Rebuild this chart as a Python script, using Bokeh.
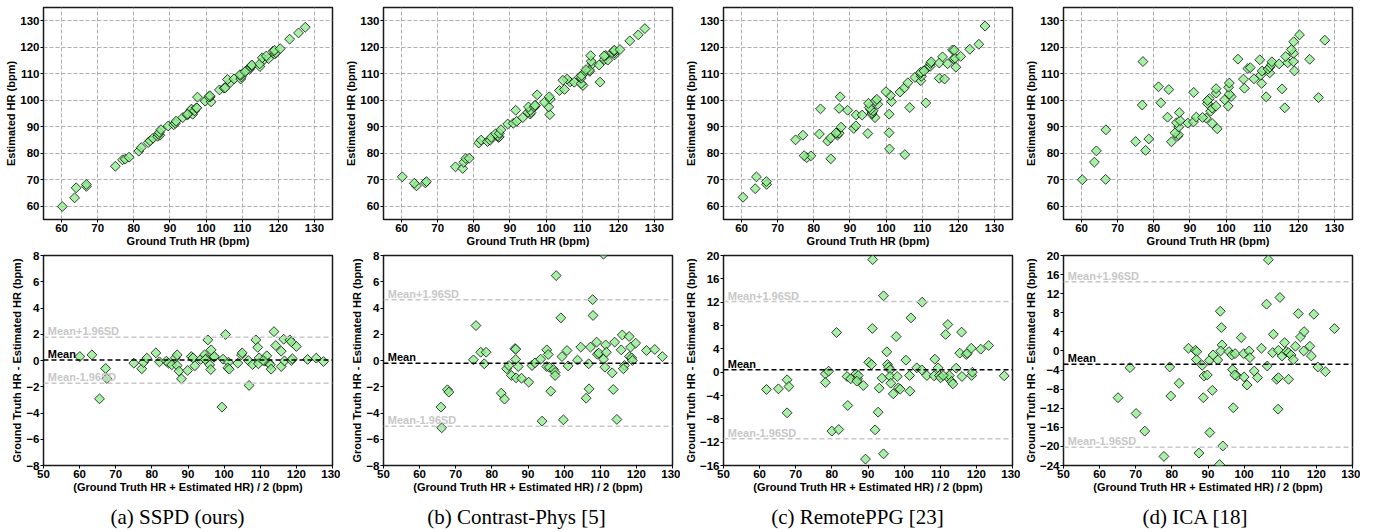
import numpy as np
from bokeh.plotting import figure
from bokeh.layouts import column, row
from bokeh.models import Range1d, FixedTicker, Span, CustomJSTickFormatter
from bokeh.core.properties import value
from bokeh.embed import file_html
from bokeh.resources import INLINE

# ---------------- data (Bland-Altman coordinates) ----------------
captions = ["(a) SSPD (ours)", "(b) Contrast-Phys [5]", "(c) RemotePPG [23]", "(d) ICA [18]"]

sspd_mean = [60.05, 63.4, 67.2, 67.55, 65.5, 75.0, 77.2, 77.7, 78.6, 81.1,
             82.1, 84.0, 84.6, 85.5, 86.5, 87.0, 87.0, 87.5, 88.2, 89.9,
             90.9, 91.4, 91.9, 93.5, 94.6, 95.1, 95.5, 96.0, 96.3, 96.4,
             97.2, 97.3, 99.4, 99.7, 100.4, 101.2, 101.0, 101.4, 103.8, 104.8,
             105.0, 106.7, 106.9, 107.9, 108.8, 109.3, 109.7, 109.5, 111.3, 111.8,
             112.4, 112.8, 113.0, 113.8, 114.3, 115.8, 115.8, 116.5, 116.7, 118.2,
             118.6, 118.6, 118.9, 120.0, 123.1, 125.5, 127.5, 110.8, 94.8]
sspd_diff = [0.30, 0.43, -0.61, -1.37, -2.92, -0.20, -0.63, -0.15, 0.18, 0.58,
             -0.10, -0.05, -0.20, -0.33, 0.20, 0.43, -0.38, -0.81, -1.40, -0.76,
             0.30, 0.20, -0.40, 0.08, 0.43, 0.13, 1.57, -0.33, -0.69, 0.81,
             0.25, 0.30, -3.55, 0.10, 1.98, -0.13, -0.56, -0.66, -0.20, 0.43,
             0.58, 0.00, -1.90, -0.30, 1.57, 1.00, 0.20, -0.25, -0.05, 0.36,
             -0.20, -0.33, -0.66, 2.20, 1.14, 0.71, -0.46, 1.62, -0.03, 1.57,
             1.42, 0.00, 0.13, 1.07, 0.08, 0.18, -0.08, 0.00, 0.08]

cphys_mean = [65.9, 66.1, 67.7, 68.1, 74.9, 75.6, 76.9, 77.9, 78.4, 82.6,
              83.5, 84.1, 84.7, 85.4, 86.4, 86.6, 86.6, 86.7, 87.3, 88.2,
              90.2, 91.1, 91.96, 93.5, 93.9, 95.2, 95.6, 95.2, 95.9, 96.3,
              97.1, 97.5, 97.8, 97.5, 99.1, 99.8, 99.4, 100.8, 101.1, 103.7,
              104.6, 106.8, 106.9, 106.1, 107.3, 107.9, 108.0, 109.0, 109.2, 109.6,
              110.9, 110.9, 111.5, 111.7, 111.3, 113.3, 113.6, 114.0, 114.6, 115.8,
              116.1, 116.7, 116.4, 118.0, 118.4, 118.1, 118.7, 118.9, 119.8, 122.8,
              125.1, 127.2, 65.65]
cphys_diff = [-3.55, -5.13, -2.23, -2.41, 0.05, 2.66, 0.63, -0.25, 0.63, -2.49,
              -2.94, -0.63, -0.38, -1.14, 0.91, 0.86, 0.08, -1.32, -0.46, -1.35,
              -1.65, -0.38, -0.18, 0.10, -4.62, 0.81, 0.46, -0.46, -0.51, -2.34,
              -0.69, -0.91, 6.47, -1.14, 3.25, -4.52, 0.30, 0.76, -0.41, 0.03,
              1.02, -0.25, -2.16, -2.87, 1.02, 4.64, 3.43, 1.40, 0.48, 0.56,
              8.1, 0.10, 1.19, 0.63, -0.51, -0.94, -2.21, 1.40, -4.49, 0.81,
              1.95, -0.38, -0.63, 1.83, 1.02, 0.30, 0.20, 0.00, 1.32, 0.76,
              0.84, 0.30, -10.9]

rppg_mean = [61.9, 65.2, 67.6, 68.1, 67.6, 78.2, 79.1, 78.2, 80.0, 81.9,
             81.3, 84.2, 84.4, 85.2, 86.7, 87.1, 87.3, 86.9, 88.7, 89.3,
             90.2, 91.3, 91.2, 91.0, 91.96, 92.8, 93.1, 93.9, 94.3, 94.3,
             95.2, 95.4, 95.7, 96.2, 96.1, 96.3, 97.0, 97.8, 98.1, 98.4,
             98.9, 100.5, 101.5, 101.6, 101.9, 103.5, 104.9, 105.0, 106.3, 108.5,
             108.3, 109.4, 109.8, 110.1, 111.5, 112.1, 112.0, 112.5, 113.1, 113.5,
             114.4, 115.4, 115.9, 116.0, 117.2, 117.5, 118.6, 118.7, 118.9, 121.2,
             123.4, 127.7, 110.8, 92.35]
rppg_diff = [-2.97, -2.86, -1.31, -2.46, -6.97, -0.29, 0.17, -1.77, -10.1, -9.83,
             6.8, -0.74, -5.71, -1.14, -0.29, -1.14, -0.57, -1.54, -2.29, -14.9,
             1.71, 19.3, 7.49, 1.31, -9.89, -6.86, -2.74, -1.03, 13.1, -14.0,
             3.49, 1.31, 0.86, 0.40, -0.74, -1.89, -3.71, 6.11, -0.74, -2.69,
             -2.91, 2.06, -0.57, -3.26, 9.31, 0.74, 0.40, 12.0, -0.57, 2.23,
             -0.63, 0.74, -0.57, -0.97, 6.46, 8.17, -0.86, -0.57, -1.60, -2.00,
             0.69, 3.26, 6.86, -0.74, 3.03, 3.26, 4.11, -0.57, 0.00, 3.94,
             4.57, -0.63, -0.57, 25.7]

ica_mean = [65.1, 68.4, 70.1, 72.5, 77.8, 79.4, 79.7, 82.0, 84.6, 86.5,
            86.9, 86.8, 87.5, 88.4, 88.7, 88.9, 89.8, 90.5, 90.4, 91.2,
            91.4, 92.7, 93.4, 93.7, 93.9, 93.5, 93.2, 94.1, 95.8, 96.6,
            96.8, 97.0, 97.5, 98.0, 97.4, 99.2, 99.9, 100.0, 100.8, 101.4,
            101.6, 102.8, 103.7, 104.8, 106.2, 106.4, 106.7, 107.9, 108.1, 109.0,
            109.5, 109.9, 109.4, 109.5, 110.5, 111.2, 111.7, 112.3, 112.3, 113.0,
            113.6, 114.2, 115.0, 115.6, 116.6, 116.5, 118.2, 118.6, 119.3, 120.4,
            122.5, 125.0, 95.8, 113.3]
ica_diff = [-9.79, -3.50, -13.1, -16.8, -22.1, -3.36, -9.44, -6.78, 0.56, 0.14,
            -0.14, -1.82, -21.4, -3.00, -9.79, -5.24, -5.03, -17.1, -1.96, -8.25,
            -0.84, -1.89, 8.32, 4.90, 1.26, 0.00, -23.8, -19.9, -0.14, -0.84,
            -3.92, -11.9, -0.56, -5.24, -5.03, 2.80, -0.56, -5.45, -7.13, 0.00,
            -1.40, -4.20, -5.59, 0.56, 9.79, -3.15, 19.1, -0.35, 3.50, -5.94,
            -5.59, 11.2, -12.2, 0.14, -1.05, 1.75, -0.14, -5.94, -0.35, -0.84,
            -1.82, 0.98, 7.83, 2.94, 4.06, 0.00, 0.98, -1.05, 7.69, -3.36,
            -4.34, 4.69, -37.6, 24.6]

ba_bias = [0.03, -0.2, 0.4, -2.8]
ba_upper = [1.78, 4.62, 12.1, 14.5]
ba_lower = [-1.73, -5.0, -11.4, -20.2]
ba_ylims = [(-8, 8), (-8, 8), (-16, 20), (-24, 20)]
ba_yticks = [list(range(-8, 9, 2)), list(range(-8, 9, 2)),
             list(range(-16, 21, 4)), list(range(-24, 21, 4))]
sc_ticks = list(range(60, 131, 10))
ba_xticks = list(range(50, 131, 10))

means = [sspd_mean, cphys_mean, rppg_mean, ica_mean]
diffs = [sspd_diff, cphys_diff, rppg_diff, ica_diff]

# ---------------- styling ----------------
FONT = "Liberation Sans"
W = 340
MB_L, MB_R = 43, 8

minus_fmt = "return tick < 0 ? '\u2212' + (-tick) : String(tick);"


def style(p, xticks, yticks, xlabel, ylabel, grid):
    p.outline_line_color = "#1a1a1a"
    p.outline_line_width = 1.5
    p.outline_line_alpha = 1.0
    p.xaxis.ticker = FixedTicker(ticks=xticks)
    p.yaxis.ticker = FixedTicker(ticks=yticks)
    p.xaxis.axis_label = xlabel
    p.yaxis.axis_label = ylabel
    for ax in p.axis:
        ax.axis_line_color = None
        ax.major_tick_out = 3
        ax.major_tick_in = 0
        ax.minor_tick_out = 0
        ax.minor_tick_in = 0
        ax.major_tick_line_color = "black"
        ax.major_tick_line_width = 1
        ax.major_label_text_font = FONT
        ax.major_label_text_font_size = "11.5px"
        ax.major_label_text_font_style = "bold"
        ax.major_label_text_color = "black"
        ax.major_label_standoff = 1
        ax.axis_label_text_font = FONT
        ax.axis_label_text_font_size = "11px"
        ax.axis_label_text_font_style = "bold"
        ax.axis_label_text_color = "black"
        ax.axis_label_standoff = 0
        ax.formatter = CustomJSTickFormatter(code=minus_fmt)
    if grid:
        p.grid.grid_line_color = "#b0b0b0"
        p.grid.grid_line_dash = "4 2"
        p.grid.grid_line_width = 1
    else:
        p.grid.visible = False


def markers(p, x, y):
    p.scatter(x, y, marker="square", angle=np.pi / 4, size=7,
              fill_color="#90ee90", fill_alpha=0.8,
              line_color="black", line_alpha=0.75, line_width=1)


tops, bottoms = [], []
for i in range(4):
    m = np.array(means[i])
    d = np.array(diffs[i])
    gt = m + d / 2.0
    est = m - d / 2.0

    pt = figure(width=W, height=250, x_range=Range1d(55, 135), y_range=Range1d(55, 135),
                output_backend="svg", toolbar_location=None, tools="",
                min_border_left=MB_L, min_border_right=MB_R, min_border_top=7, min_border_bottom=31)
    style(pt, sc_ticks, sc_ticks, "Ground Truth HR (bpm)", "Estimated HR (bpm)", True)
    markers(pt, gt, est)
    tops.append(pt)

    lo, hi = ba_ylims[i]
    pb = figure(width=W, height=245, x_range=Range1d(50, 130), y_range=Range1d(lo, hi),
                output_backend="svg", toolbar_location=None, tools="",
                min_border_left=MB_L, min_border_right=MB_R, min_border_top=5, min_border_bottom=30)
    style(pb, ba_xticks, ba_yticks[i], "(Ground Truth HR + Estimated HR) / 2 (bpm)",
          "Ground Truth HR - Estimated HR (bpm)", False)
    pb.add_layout(Span(location=ba_upper[i], dimension="width", line_color="#c8c8c8",
                       line_dash="5 3", line_width=1.5))
    pb.add_layout(Span(location=ba_lower[i], dimension="width", line_color="#c8c8c8",
                       line_dash="5 3", line_width=1.5))
    pb.add_layout(Span(location=ba_bias[i], dimension="width", line_color="black",
                       line_dash="5 3", line_width=1.5))
    markers(pb, m, d)
    pb.text(x=[51.2, 51.2], y=[ba_upper[i], ba_lower[i]], text=["Mean+1.96SD", "Mean-1.96SD"],
            text_font=value(FONT), text_font_style="bold", text_font_size="11px",
            text_color="#c8c8c8", text_baseline="bottom", text_align="left")
    pb.text(x=[51.2], y=[ba_bias[i]], text=["Mean"],
            text_font=value(FONT), text_font_style="bold", text_font_size="11px",
            text_color="black", text_baseline="bottom", text_align="left")
    bottoms.append(pb)

cap = figure(width=4 * W, height=37, x_range=Range1d(0, 4 * W), y_range=Range1d(0, 37),
             output_backend="svg", toolbar_location=None, tools="", title=None,
             min_border=0, outline_line_color=None)
cap.axis.visible = False
cap.grid.visible = False
cap_x = [177, 516, 857, 1195]
cap.text(x=cap_x, y=[16] * 4, text=captions, text_font=value("Liberation Serif"),
         text_font_size="21px", text_color="black", text_align="center", text_baseline="middle")

layout = column(row(*tops), row(*bottoms), cap)
open("out.html", "w").write(file_html(layout, INLINE))
